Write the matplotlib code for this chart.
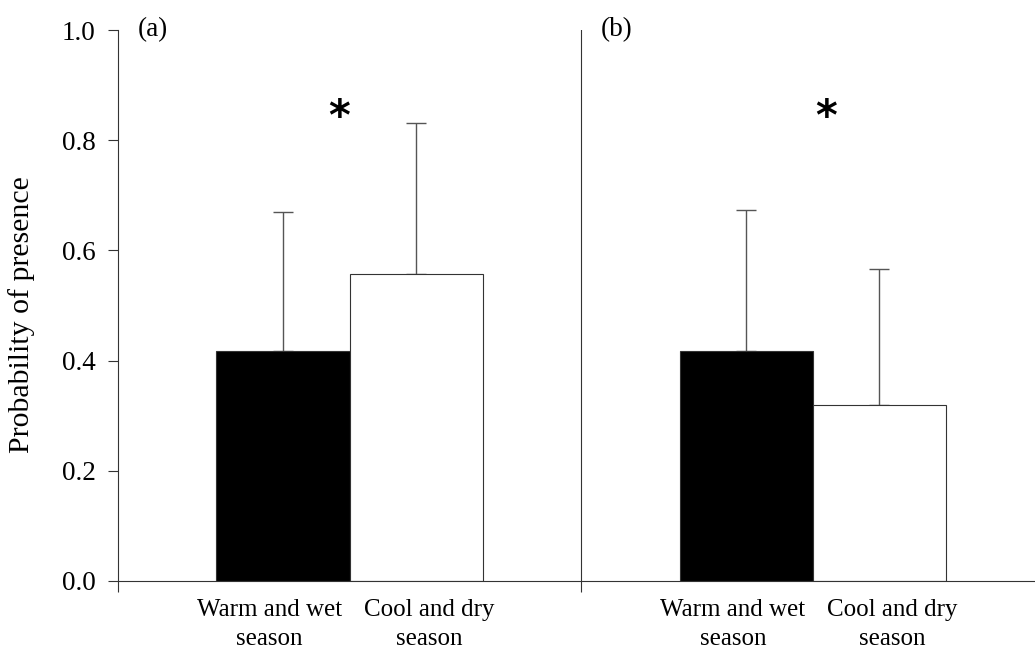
""" Probability of presence by season, two panels """
import numpy as np
from matplotlib import pyplot as plt
from matplotlib.ticker import FormatStrFormatter

# Data
panels = ['(a)', '(b)']
seasons = ['Warm and wet\nseason', 'Cool and dry\nseason']
warm_mean = [0.417, 0.417]
warm_err = [0.252, 0.256]
cool_mean = [0.557, 0.319]
cool_err = [0.275, 0.247]
signif = ['*', '*']

plt.rcParams['font.family'] = ['Liberation Serif', 'DejaVu Serif']

fig = plt.figure(figsize=(10.35, 6.55), dpi=100)
ax = fig.add_axes([118/1035, 1-581/655, 1-118/1035, (581-30)/655])

gap = 3.48           # spacing between panel centres
centers = np.arange(len(panels)) * gap
edge_clr = '#333333'
err_clr = '#555555'

ax.bar(centers - 0.5, warm_mean, width=1.0, color='black',
       edgecolor=edge_clr, lw=0.8, zorder=2)
ax.bar(centers + 0.5, cool_mean, width=1.0, color='white',
       edgecolor=edge_clr, lw=0.8, zorder=2)

# Upper error bars only
ax.errorbar(centers - 0.5, warm_mean, yerr=[np.zeros(2), warm_err],
            fmt='none', ecolor=err_clr, elinewidth=1.0, capsize=7,
            capthick=1.0, zorder=1)
ax.errorbar(centers + 0.5, cool_mean, yerr=[np.zeros(2), cool_err],
            fmt='none', ecolor=err_clr, elinewidth=1.0, capsize=7,
            capthick=1.0, zorder=1)

# Panel divider
ax.axvline(gap/2, color=edge_clr, lw=0.8)

# Axes
ax.set_xlim(-gap/2, 5.15)
ax.set_ylim(0, 1.0)
ax.spines['top'].set_visible(False)
ax.spines['right'].set_visible(False)
for sp in ['left', 'bottom']:
    ax.spines[sp].set_color(edge_clr)
    ax.spines[sp].set_linewidth(0.8)

ax.set_yticks(np.arange(0, 1.01, 0.2))
ax.yaxis.set_major_formatter(FormatStrFormatter('%.1f'))
ax.tick_params(axis='y', direction='out', length=7.2, width=0.8,
               color=edge_clr, labelsize=19.5, pad=9)

# Category labels as major ticks (no tick mark), boundaries as minor ticks
lbl_x = np.concatenate([[c - 0.5 - 0.1, c + 0.5 + 0.1] for c in centers])
ax.set_xticks(lbl_x)
ax.set_xticklabels(seasons * len(panels), linespacing=1.4)
ax.set_xticks([-gap/2, gap/2], minor=True)
ax.tick_params(axis='x', which='major', length=0, labelsize=18, pad=13)
ax.tick_params(axis='x', which='minor', direction='out', length=8,
               width=0.8, color=edge_clr)

# Panel letters and significance
star_dx = [-0.08, 0.1]
for cc, pp, ss, dx in zip(centers, panels, signif, star_dx):
    ax.text(cc - gap/2 + 0.15, 1.0, pp, fontsize=19.5, ha='left', va='center')
    ax.text(cc + dx, 0.84, ss, fontsize=30, fontweight='bold', ha='center',
            va='center', family='DejaVu Sans')

fig.text(22/1035, 1-315/655, 'Probability of presence', rotation=90,
         fontsize=21.5, ha='center', va='center')

plt.savefig('out.png', dpi=100)
print('Saved out.png')
